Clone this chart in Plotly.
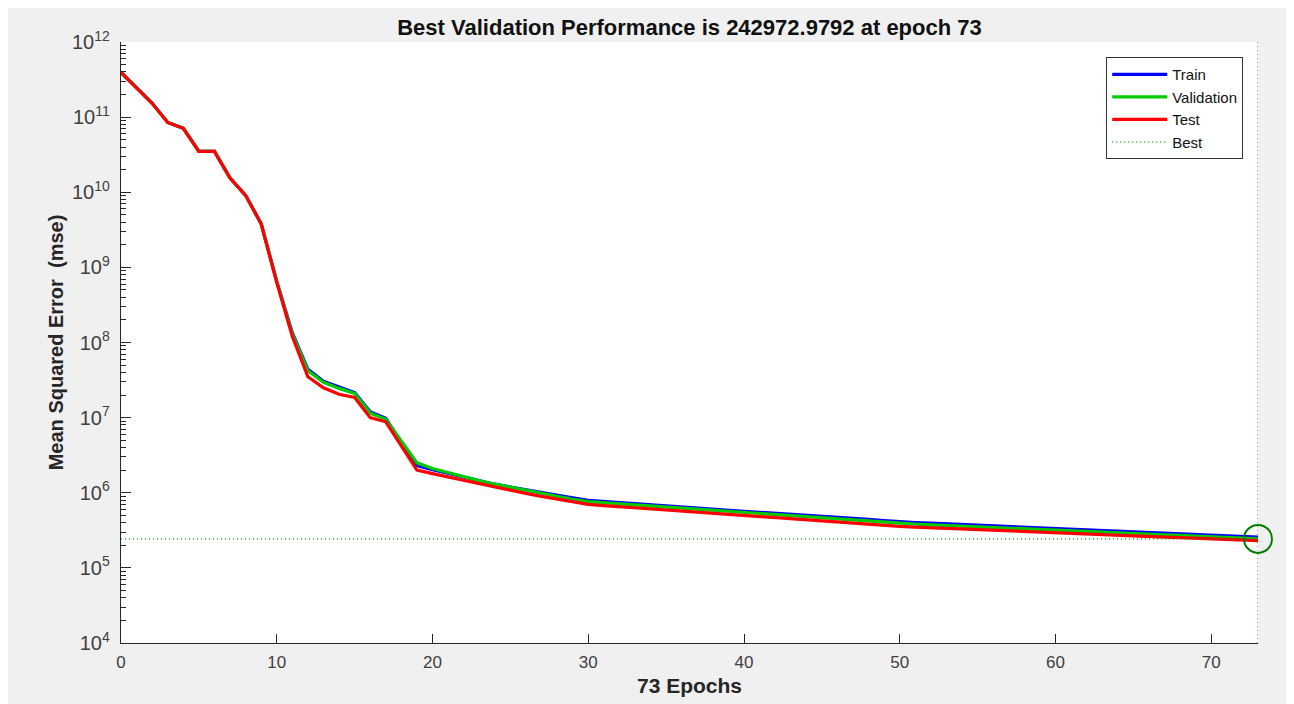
import plotly.graph_objects as go

epochs = list(range(0, 74))

train = [3.94e11, 2.45e11, 1.53e11, 8.5e10, 7.1e10, 3.5e10, 3.5e10, 1.55e10, 9.1e9, 3.8e9,
         6.5e8, 1.35e8, 4.4e7, 3.05e7, 2.55e7, 2.15e7, 1.2e7, 9.8e6, 4.6e6, 2.3e6,
         2.02e6, 1.8e6, 1.6e6, 1.44e6, 1.3e6, 1.19e6, 1.09e6, 1.0e6, 9.3e5, 8.55e5,
         7.93e5, 7.65e5, 7.38e5, 7.12e5, 6.88e5, 6.65e5, 6.44e5, 6.23e5, 6.03e5, 5.83e5,
         5.65e5, 5.49e5, 5.34e5, 5.19e5, 5.04e5, 4.89e5, 4.73e5, 4.58e5, 4.42e5, 4.26e5,
         4.11e5, 4.02e5, 3.93e5, 3.85e5, 3.77e5, 3.68e5, 3.6e5, 3.52e5, 3.45e5, 3.38e5,
         3.31e5, 3.25e5, 3.19e5, 3.13e5, 3.07e5, 3.01e5, 2.96e5, 2.91e5, 2.86e5, 2.8e5,
         2.75e5, 2.69e5, 2.63e5, 2.56e5]

validation = [3.94e11, 2.45e11, 1.53e11, 8.5e10, 7.1e10, 3.5e10, 3.5e10, 1.55e10, 9.1e9, 3.8e9,
              6.4e8, 1.3e8, 4.2e7, 2.95e7, 2.45e7, 2.1e7, 1.15e7, 9.5e6, 4.8e6, 2.5e6,
              2.1e6, 1.85e6, 1.62e6, 1.45e6, 1.3e6, 1.18e6, 1.07e6, 9.8e5, 9.0e5, 8.2e5,
              7.6e5, 7.35e5, 7.1e5, 6.85e5, 6.62e5, 6.4e5, 6.2e5, 6.0e5, 5.8e5, 5.6e5,
              5.42e5, 5.26e5, 5.1e5, 4.95e5, 4.8e5, 4.65e5, 4.5e5, 4.35e5, 4.2e5, 4.05e5,
              3.9e5, 3.82e5, 3.74e5, 3.66e5, 3.58e5, 3.5e5, 3.42e5, 3.35e5, 3.28e5, 3.21e5,
              3.15e5, 3.09e5, 3.03e5, 2.97e5, 2.91e5, 2.86e5, 2.81e5, 2.76e5, 2.72e5, 2.67e5,
              2.62e5, 2.56e5, 2.5e5, 242972.9792]

test = [3.94e11, 2.45e11, 1.53e11, 8.5e10, 7.1e10, 3.5e10, 3.5e10, 1.55e10, 9.1e9, 3.8e9,
        6.3e8, 1.2e8, 3.5e7, 2.5e7, 2.05e7, 1.85e7, 1.0e7, 8.8e6, 4.2e6, 2.0e6,
        1.8e6, 1.62e6, 1.46e6, 1.32e6, 1.19e6, 1.08e6, 9.8e5, 8.95e5, 8.2e5, 7.55e5,
        7.0e5, 6.76e5, 6.53e5, 6.3e5, 6.09e5, 5.89e5, 5.7e5, 5.52e5, 5.34e5, 5.16e5,
        4.99e5, 4.84e5, 4.69e5, 4.55e5, 4.41e5, 4.27e5, 4.13e5, 3.99e5, 3.85e5, 3.71e5,
        3.56e5, 3.49e5, 3.42e5, 3.35e5, 3.28e5, 3.21e5, 3.14e5, 3.08e5, 3.02e5, 2.96e5,
        2.9e5, 2.85e5, 2.8e5, 2.75e5, 2.7e5, 2.65e5, 2.61e5, 2.57e5, 2.53e5, 2.49e5,
        2.45e5, 2.4e5, 2.35e5, 2.31e5]

best_epoch = 73
best_value = 242972.9792
title_text = "Best Validation Performance is 242972.9792 at epoch 73"

font_family = "Liberation Sans, Arial, sans-serif"
axis_color = "#262626"
label_color = "#404040"

fig = go.Figure()
fig.add_trace(go.Scatter(x=epochs, y=train, mode="lines", name="Train",
                         line=dict(color="#0000ff", width=3.2)))
fig.add_trace(go.Scatter(x=epochs, y=validation, mode="lines", name="Validation",
                         line=dict(color="#00cc00", width=3.2)))
fig.add_trace(go.Scatter(x=epochs, y=test, mode="lines", name="Test",
                         line=dict(color="#ff0000", width=3.2)))
fig.add_trace(go.Scatter(x=[0, best_epoch], y=[best_value, best_value], mode="lines",
                         name="Best", line=dict(color="#00a000", width=1.2, dash="1px,3px")))
fig.add_trace(go.Scatter(x=[best_epoch], y=[best_value], mode="markers", showlegend=False,
                         marker=dict(symbol="circle-open", size=28,
                                     line=dict(color="#007a00", width=2), color="#007a00"),
                         cliponaxis=False))
fig.add_vline(x=best_epoch, line=dict(color="#00a000", width=1.2, dash="1px,3px"))

fig.update_layout(
    width=1294, height=704,
    paper_bgcolor="#f0f0f0", plot_bgcolor="white",
    margin=dict(l=113, r=44, t=34, b=69),
    font=dict(family=font_family, color=label_color, size=16),
    title=dict(text="<b>" + title_text + "</b>", x=0.5, xref="paper", y=1 - 19 / 704,
               yanchor="middle", font=dict(size=22, color="#111111")),
    showlegend=True,
    legend=dict(x=0.987, y=0.975, xanchor="right", yanchor="top",
                bgcolor="white", bordercolor="#333333", borderwidth=1,
                font=dict(size=15, color="#111111"), tracegroupgap=0, itemwidth=55),
)
fig.update_xaxes(range=[0, 73], dtick=10, tick0=0, ticks="inside", ticklen=9,
                 tickcolor=axis_color, showline=True, linecolor=axis_color, linewidth=1,
                 showgrid=False, zeroline=False, mirror=False,
                 tickfont=dict(size=17, color=label_color), ticklabelstandoff=4,
                 title=dict(text="<b>73 Epochs</b>", font=dict(size=21, color="#262626"), standoff=6))
fig.update_yaxes(type="log", range=[4, 12], dtick=1, ticks="inside", ticklen=10,
                 tickcolor=axis_color, showline=True, linecolor=axis_color, linewidth=1,
                 showgrid=False, zeroline=False, exponentformat="power", showexponent="all",
                 tickfont=dict(size=16, color=label_color), ticklabelstandoff=7,
                 minor=dict(ticks="inside", ticklen=5, dtick="D1", tickcolor=axis_color, showgrid=False),
                 title=dict(text="<b>Mean Squared Error  (mse)</b>", font=dict(size=20, color="#262626"), standoff=2))

fig.write_html("out.html")
